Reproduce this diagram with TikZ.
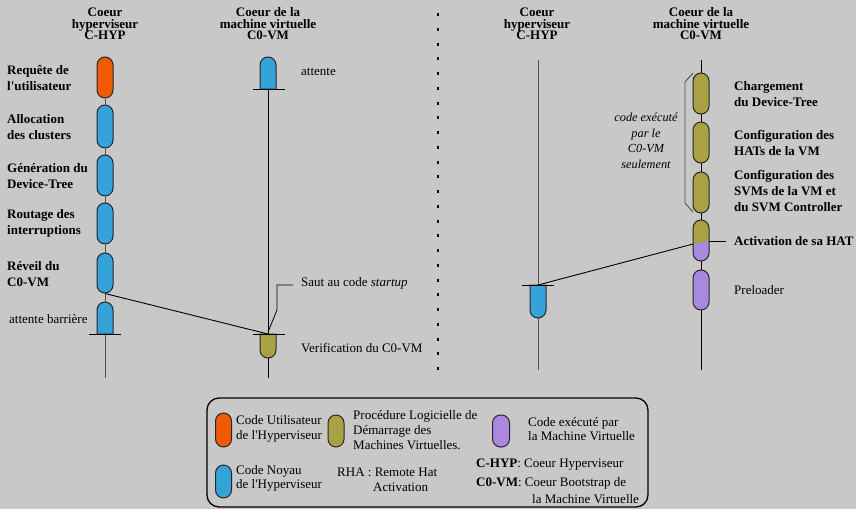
\documentclass[tikz,border=0pt]{standalone}
\usepackage{fontspec}
\setmainfont{Liberation Serif}[Ligatures=TeXOff]
\definecolor{bg}{HTML}{C8C8C8}
\definecolor{orangeU}{HTML}{F05A02}
\definecolor{blueK}{HTML}{35A3DA}
\definecolor{oliveB}{HTML}{A8A244}
\definecolor{purpleV}{HTML}{AA88DF}
\definecolor{linkgray}{HTML}{505050}
\begin{document}
\begin{tikzpicture}[x=1pt,y=-1pt,
  capsule/.style={draw=black!85, line width=1pt, rounded corners=8pt,
    minimum width=16pt, inner sep=0pt},
  halfcap/.style={draw=black!85, line width=1pt},
  link/.style={draw=linkgray, line width=0.9pt},
  vline/.style={draw=black, line width=0.9pt},
  txt/.style={inner sep=0pt, anchor=west, align=left,
    font=\fontsize{13}{16}\selectfont},
  lbl/.style={txt, font=\bfseries\fontsize{13}{16}\selectfont},
  legtxt/.style={txt, font=\fontsize{13}{14.5}\selectfont},
  coltitle/.style={inner sep=0pt, align=center,
    font=\bfseries\fontsize{13}{11.5}\selectfont}]

% canvas
\fill[bg] (0,0) rectangle (856,509);
\useasboundingbox (0,0) rectangle (856,509);

% ---------------- column titles ----------------
\node[coltitle] (t1) at (105,24) {Coeur\\hyperviseur\\C-HYP};
\node[coltitle] (t2) at (268,24) {Coeur de la\\machine virtuelle\\C0-VM};
\node[coltitle] (t3) at (537,24) {Coeur\\hyperviseur\\C-HYP};
\node[coltitle] (t4) at (701,24) {Coeur de la\\machine virtuelle\\C0-VM};

% separator
\draw[line width=2.5pt, dash pattern=on 3pt off 11.75pt] (438,13) -- (438,370);

% ---------------- left C-HYP core ----------------
\node[capsule, fill=orangeU, minimum height=41pt] (c1) at (105,77.5) {};
\node[capsule, fill=blueK, minimum height=43pt] (c2) at (105,126.5) {};
\node[capsule, fill=blueK, minimum height=41pt] (c3) at (105,175.5) {};
\node[capsule, fill=blueK, minimum height=41pt] (c4) at (105,223.5) {};
\node[capsule, fill=blueK, minimum height=40pt] (c5) at (105,273) {};
\draw[halfcap, fill=blueK] (97,334) -- (97,310) arc[start angle=180, end angle=360, radius=8] -- (113,334) -- cycle;
\coordinate (c6top) at (105,302);
\coordinate (c6bar) at (105,334);
\coordinate (c6end) at (105,378);
\draw[link] (c1.south) -- (c2.north);
\draw[link] (c2.south) -- (c3.north);
\draw[link] (c3.south) -- (c4.north);
\draw[link] (c4.south) -- (c5.north);
\draw[link] (c5.south) -- (c6top);
\draw[link] (c6bar) -- (c6end);
\draw[vline] (89,334) -- (121,334);

\node[lbl] (l1) at (7,78) {Requête de\\l'utilisateur};
\node[lbl] (l2) at (7,127) {Allocation\\des clusters};
\node[lbl] (l3) at (7,176) {Génération du\\Device-Tree};
\node[lbl] (l4) at (7,223.5) {Routage des\\interruptions};
\node[lbl] (l5) at (7,274) {Réveil du\\C0-VM};
\node[txt] (l6) at (9,319) {attente barrière};

% ---------------- middle C0-VM core ----------------
\coordinate (wbar) at (268,89);
\coordinate (vbar) at (268,334);
\coordinate (vend) at (268,378);
\draw[vline] (wbar) -- (vbar);
\draw[vline] (268,358) -- (vend);
\draw[halfcap, fill=blueK] (260,89) -- (260,65) arc[start angle=180, end angle=360, radius=8] -- (276,89) -- cycle;
\draw[halfcap, fill=oliveB] (260,334) -- (260,350) arc[start angle=180, end angle=0, radius=8] -- (276,334) -- cycle;
\draw[vline] (253,89) -- (285,89);
\draw[vline] (253,334) -- (285,334);

\node[txt] (m1) at (301,72) {attente};
\node[txt] (m2) at (301,283) {Saut au code \textit{startup}};
\node[txt] (m3) at (301,348) {Verification du C0-VM};
\coordinate (sautA) at (293,285);
\coordinate (sautB) at (268,332);
\draw[vline, line width=0.8pt] (sautA) -- (277,285) -- (277,310) -- (sautB);

% wake-up link
\draw[vline] (c5.south) -- (vbar);

% ---------------- right C-HYP core ----------------
\coordinate (hTop) at (538,60);
\coordinate (hBar) at (538,285);
\coordinate (hEnd) at (538,370);
\draw[link] (hTop) -- (hEnd);
\draw[halfcap, fill=blueK] (530,285) -- (530,310) arc[start angle=180, end angle=0, radius=8] -- (546,285) -- cycle;
\draw[vline] (522,285) -- (554,285);

% ---------------- right C0-VM core ----------------
\coordinate (vTop) at (701,60);
\coordinate (vEnd) at (701,370);
\draw[vline] (vTop) -- (vEnd);
\node[capsule, fill=oliveB, minimum height=41pt] (r1) at (701,93.5) {};
\node[capsule, fill=oliveB, minimum height=41pt] (r2) at (701,142.5) {};
\node[capsule, fill=oliveB, minimum height=41pt] (r3) at (701,192.5) {};
\begin{scope}
  \clip[rounded corners=8pt] (693,220) rectangle (709,261);
  \fill[purpleV] (693,220) rectangle (709,261);
  \fill[oliveB] (693,220) -- (709,220) -- (709,241) -- (693,244) -- cycle;
\end{scope}
\node[capsule, minimum height=41pt] (r4) at (701,240.5) {};
\node[capsule, fill=purpleV, minimum height=40pt] (r5) at (701,290) {};
\coordinate (hatL) at (693,244);
\coordinate (hatR) at (709,241);
\coordinate (hatT) at (726,241);
\draw[vline] (hatL) -- (hBar);
\draw[vline] (hatR) -- (hatT);

\node[lbl] (n1) at (734,94.5) {Chargement\\du Device-Tree};
\node[lbl] (n2) at (734,143) {Configuration des\\HATs de la VM};
\node[lbl] (n3) at (734,191) {Configuration des\\SVMs de la VM et\\du SVM Controller};
\node[lbl] (n4) at (734,241) {Activation de sa HAT};
\node[txt] (n5) at (734,290) {Preloader};

% bracket for the C0-VM-only code
\draw[link] (693,73) -- (685,82) -- (685,203) -- (693,212);
\node[inner sep=0pt, align=center, font=\itshape\fontsize{12.3}{15.5}\selectfont]
  (brk) at (646,141) {code exécuté\\par le\\C0-VM\\seulement};

% ---------------- legend ----------------
\draw[line width=1.3pt, rounded corners=12pt] (207,398) rectangle (648,507);
\node[capsule, fill=orangeU, minimum height=34pt] (k1) at (223.5,430) {};
\node[capsule, fill=blueK, minimum height=33pt] (k2) at (223.5,481.5) {};
\node[capsule, fill=oliveB, minimum height=32pt] (k3) at (336,431) {};
\node[capsule, fill=purpleV, minimum height=32pt, minimum width=17pt] (k4) at (501,431) {};
\node[legtxt] (kt1) at (236,429) {Code Utilisateur\\de l'Hyperviseur};
\node[legtxt] (kt2) at (236,478.5) {Code Noyau\\de l'Hyperviseur};
\node[legtxt, font=\fontsize{13}{15}\selectfont] (kt3) at (353,430) {Procédure Logicielle de\\Démarrage des\\Machines Virtuelles.};
\node[legtxt] (kt4) at (528,429) {Code exécuté par\\la Machine Virtuelle};
\node[legtxt] (kt5) at (337,472) {RHA : Remote Hat};
\node[legtxt] (kt6) at (373,487) {Activation};
\node[legtxt] (kt7) at (476,465) {\textbf{C-HYP}: Coeur Hyperviseur};
\node[legtxt] (kt8) at (476,483) {\textbf{C0-VM}: Coeur Bootstrap de};
\node[legtxt] (kt9) at (532,499) {la Machine Virtuelle};
\end{tikzpicture}
\end{document}
